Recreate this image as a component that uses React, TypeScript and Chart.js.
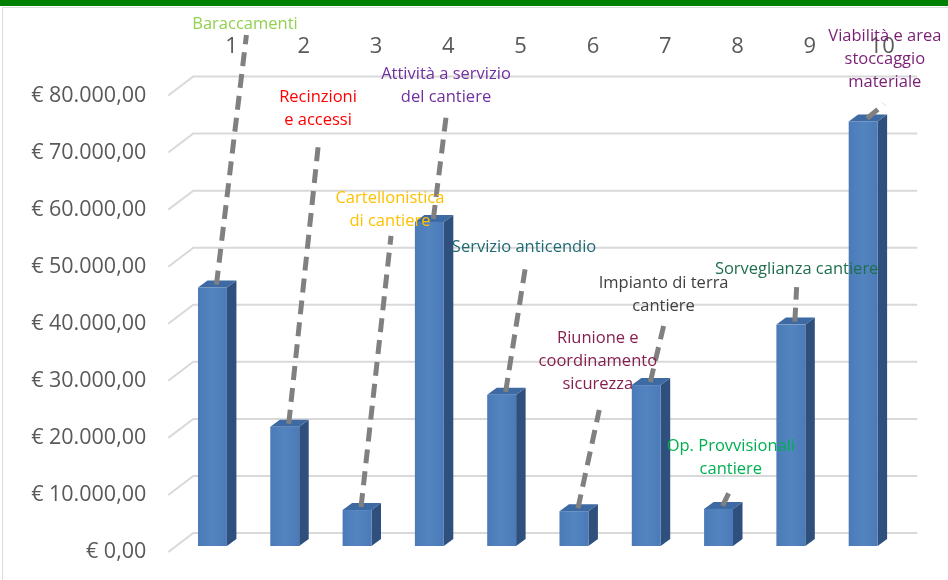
import React, { useEffect, useRef } from 'react';
import { Chart, registerables } from 'chart.js';

Chart.register(...registerables);

// ---- data ----
const categories = ['1', '2', '3', '4', '5', '6', '7', '8', '9', '10'];
const values = [45300, 20900, 6300, 56800, 26500, 6100, 28200, 6500, 38800, 74400];
const yTickValues = [0, 10000, 20000, 30000, 40000, 50000, 60000, 70000, 80000];

const calloutTexts = [
  ['Baraccamenti'],
  ['Recinzioni', 'e accessi'],
  ['Cartellonistica', 'di cantiere'],
  ['Attività a servizio', 'del cantiere'],
  ['Servizio anticendio'],
  ['Riunione e', 'coordinamento', 'sicurezza'],
  ['Impianto di terra', 'cantiere'],
  ['Op. Provvisionali', 'cantiere'],
  ['Sorveglianza cantiere'],
  ['Viabilità e area', 'stoccaggio', 'materiale'],
];
const calloutColors = [
  '#92d050', '#ff0000', '#ffc000', '#7030a0', '#1f6b74',
  '#86204f', '#404040', '#00b050', '#1f6f4f', '#7a1e73',
];
// callout anchor positions in data space (category index, value)
const calloutTextX = [0.45, 1.46, 2.455, 3.23, 4.31, 5.33, 6.24, 7.17, 8.08, 9.3];
const calloutTextY = [92500, 79700, 62000, 83800, 53450, 37500, 47150, 18600, 49600, 90400];
const calloutLineX = [0.47, 1.47, 2.47, 3.23, 4.34, 5.35, 6.24, 7.14, 8.08, 9.29];
const calloutLineY = [90600, 72000, 55400, 76100, 50800, 24900, 39600, 10300, 46400, 78500];

const FONT = '"Open Sans", "DejaVu Sans", sans-serif';

function formatEuro(v: number): string {
  const n = Math.round(v);
  const s = String(n).replace(/\B(?=(\d{3})+(?!\d))/g, '.');
  return '€ ' + s + ',00';
}

const depthPlugin = {
  id: 'depth3d',
  beforeDatasetsDraw(chart: any) {
    const { ctx, chartArea, scales } = chart;
    const y = scales.y;
    ctx.save();
    ctx.strokeStyle = '#d9d9d9';
    ctx.lineWidth = 2;
    for (const t of yTickValues) {
      const py = y.getPixelForValue(t);
      ctx.beginPath();
      ctx.moveTo(chartArea.left - 8, py);
      ctx.lineTo(chartArea.left + 17, py - 19);
      ctx.lineTo(chartArea.right + 18, py - 19);
      ctx.stroke();
    }
    ctx.restore();
  },
  afterDatasetsDraw(chart: any) {
    const { ctx, scales } = chart;
    const meta = chart.getDatasetMeta(0);
    const lift = 6;
    const dx = 9.5;
    const dy = 7;
    ctx.save();
    meta.data.forEach((bar: any) => {
      const w = bar.width;
      const l = bar.x - w / 2;
      const r = bar.x + w / 2;
      const top = bar.y - lift;
      const bot = bar.base - lift;
      // side
      ctx.fillStyle = '#2f4f7d';
      ctx.beginPath();
      ctx.moveTo(r, top);
      ctx.lineTo(r + dx, top - dy);
      ctx.lineTo(r + dx, bot - dy);
      ctx.lineTo(r, bot);
      ctx.closePath();
      ctx.fill();
      // top
      ctx.fillStyle = '#3d6aa3';
      ctx.beginPath();
      ctx.moveTo(l, top);
      ctx.lineTo(l + dx, top - dy);
      ctx.lineTo(r + dx, top - dy);
      ctx.lineTo(r, top);
      ctx.closePath();
      ctx.fill();
      // front
      const g = ctx.createLinearGradient(l, 0, r, 0);
      g.addColorStop(0, '#4a7bb8');
      g.addColorStop(0.5, '#5484c0');
      g.addColorStop(1, '#4a7bb8');
      ctx.fillStyle = g;
      ctx.fillRect(l, top, w, bot - top);
    });

    // callout lines
    ctx.strokeStyle = '#808080';
    ctx.lineWidth = 5;
    ctx.setLineDash([14, 8]);
    ctx.lineCap = 'butt';
    meta.data.forEach((bar: any, i: number) => {
      const x0 = bar.x + 4;
      const y0 = bar.y - lift - 3;
      const x1 = scales.x.getPixelForValue(calloutLineX[i]);
      const y1 = scales.y.getPixelForValue(calloutLineY[i]);
      ctx.beginPath();
      ctx.moveTo(x0, y0);
      ctx.lineTo(x1, y1);
      ctx.stroke();
    });
    ctx.setLineDash([]);

    // callout texts
    ctx.font = '16.5px ' + FONT;
    ctx.textAlign = 'center';
    ctx.textBaseline = 'middle';
    calloutTexts.forEach((lines, i) => {
      const cx = scales.x.getPixelForValue(calloutTextX[i]);
      const cy = scales.y.getPixelForValue(calloutTextY[i]);
      ctx.fillStyle = calloutColors[i];
      lines.forEach((ln, k) => ctx.fillText(ln, cx, cy + k * 23));
    });
    ctx.restore();
  },
};

export default function App() {
  const ref = useRef<HTMLCanvasElement | null>(null);

  useEffect(() => {
    if (!ref.current) return;
    const chart = new Chart(ref.current, {
      type: 'bar',
      data: {
        labels: categories,
        datasets: [
          {
            data: values,
            backgroundColor: 'rgba(0,0,0,0)',
            borderWidth: 0,
            barPercentage: 0.4,
            categoryPercentage: 1,
          },
        ],
      },
      options: {
        animation: false,
        responsive: true,
        maintainAspectRatio: false,
        layout: { padding: { top: 0, bottom: 28, left: 0, right: 48.7 } },
        plugins: { legend: { display: false }, tooltip: { enabled: false } },
        scales: {
          x: {
            position: 'top',
            grid: { display: false, drawTicks: false },
            border: { display: false },
            ticks: {
              font: { family: FONT, size: 22 },
              color: '#595959',
              labelOffset: 19,
              padding: 36,
              maxRotation: 0,
            },
            afterFit: (s: any) => {
              s.height = 95.5;
              s.paddingLeft = 0;
              s.paddingRight = 0;
              s.paddingTop = 0;
              s.paddingBottom = 0;
            },
          },
          y: {
            min: 0,
            max: 80000,
            grid: { display: false, drawTicks: false },
            border: { display: false },
            ticks: {
              stepSize: 10000,
              font: { family: FONT, size: 21.5 },
              color: '#595959',
              padding: 30,
              callback: (v: any) => formatEuro(Number(v)),
            },
            afterFit: (s: any) => {
              s.width = 176.3;
              s.paddingLeft = 0;
              s.paddingRight = 0;
              s.paddingTop = 0;
              s.paddingBottom = 0;
            },
          },
        },
      },
      plugins: [depthPlugin],
    });
    return () => chart.destroy();
  }, []);

  return (
    <div
      style={{
        position: 'fixed',
        left: 0,
        top: 0,
        width: 948,
        height: 580,
        background: '#ffffff',
        overflow: 'hidden',
      }}
    >
      <canvas ref={ref} style={{ position: 'absolute', left: 0, top: 0, width: 948, height: 580 }} />
      <div style={{ position: 'absolute', left: 0, top: 0, width: 948, height: 6, background: '#008000' }} />
      <div style={{ position: 'absolute', left: 2, top: 7, width: 946, height: 1, background: '#dcdcdc' }} />
      <div style={{ position: 'absolute', left: 2, top: 7, width: 1, height: 573, background: '#dcdcdc' }} />
    </div>
  );
}
